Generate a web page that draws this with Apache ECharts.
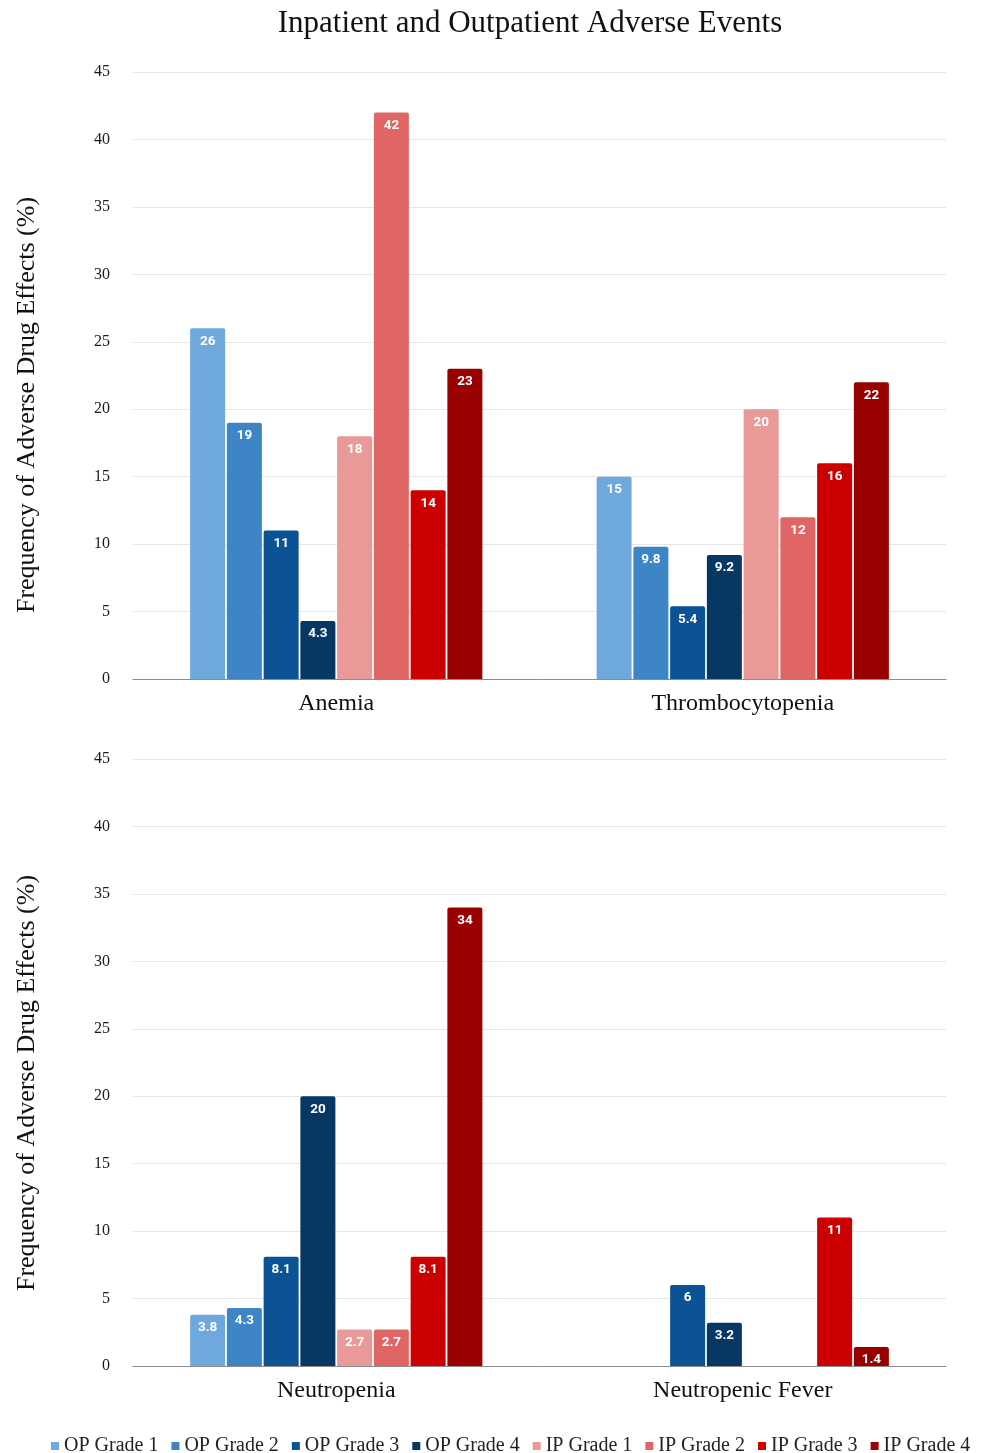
<!DOCTYPE html>
<html>
<head>
<meta charset="utf-8">
<script src="https://cdn.jsdelivr.net/npm/echarts@6/dist/echarts.min.js"></script>
<style>html,body{margin:0;padding:0;background:#fff}#c{width:988px;height:1453px}</style>
</head>
<body>
<div id="c"></div>
<script>
const seriesNames = ['OP Grade 1','OP Grade 2','OP Grade 3','OP Grade 4','IP Grade 1','IP Grade 2','IP Grade 3','IP Grade 4'];
const colors = ['#6fa8dc','#3d85c6','#0b5394','#073763','#ea9999','#e06666','#cc0000','#990000'];
const topCategories = ['Anemia','Thrombocytopenia'];
const bottomCategories = ['Neutropenia','Neutropenic Fever'];
// values per series: [category1, category2]
const topValues = [
  [26, 15],
  [19, 9.8],
  [11, 5.4],
  [4.3, 9.2],
  [18, 20],
  [42, 12],
  [14, 16],
  [23, 22]
];
const bottomValues = [
  [3.8, null],
  [4.3, null],
  [8.1, 6],
  [20, 3.2],
  [2.7, null],
  [2.7, null],
  [8.1, 11],
  [34, 1.4]
];
const yTicks = {min: 0, max: 45, interval: 5};
const yAxisTitle = 'Frequency of Adverse Drug Effects (%)';

const serif = 'Liberation Serif';
const chart = echarts.init(document.getElementById('c'));
const series = [];
function addSeries(values, idx) {
  values.forEach((v, i) => {
    series.push({
      name: seriesNames[i],
      type: 'bar',
      xAxisIndex: idx,
      yAxisIndex: idx,
      data: v.map(x => x === null ? '-' : x),
      barWidth: 35,
      barGap: '5%',
      itemStyle: {color: colors[i], borderRadius: [2,2,0,0]},
      label: {
        show: true,
        position: 'insideTop',
        distance: 6,
        color: '#fff',
        fontFamily: 'Roboto',
        fontWeight: 'bold',
        fontSize: 13.5
      }
    });
  });
}
addSeries(topValues, 0);
addSeries(bottomValues, 1);

const xAxisCommon = {
  type: 'category',
  axisTick: {show: false},
  axisLine: {lineStyle: {color: '#8c8c8c', width: 1}},
  axisLabel: {fontFamily: serif, fontSize: 24, color: '#111', margin: 13}
};
const yAxisCommon = {
  type: 'value',
  min: yTicks.min, max: yTicks.max, interval: yTicks.interval,
  axisLine: {show: false},
  axisTick: {show: false},
  splitLine: {lineStyle: {color: '#e6e6e6'}},
  axisLabel: {fontFamily: serif, fontSize: 16, color: '#1a1a1a', margin: 23}
};

function yTitle(cy) {
  return {
    type: 'text',
    x: 27, y: cy,
    rotation: Math.PI / 2,
    style: {
      text: yAxisTitle,
      font: '26px "Liberation Serif"',
      fill: '#111',
      textAlign: 'center',
      textVerticalAlign: 'middle'
    }
  };
}

chart.setOption({
  animation: false,
  title: {
    text: 'Inpatient and Outpatient Adverse Events',
    left: 525, top: 3, textAlign: 'center',
    textStyle: {fontFamily: serif, fontSize: 31, fontWeight: 'normal', color: '#111'}
  },
  graphic: [yTitle(405), yTitle(1083)],
  legend: {
    data: seriesNames,
    top: 1431,
    left: 46,
    icon: 'rect',
    itemWidth: 8, itemHeight: 8,
    itemGap: 13,
    textStyle: {fontFamily: serif, fontSize: 20, color: '#222'}
  },
  grid: [
    {left: 133, right: 42, top: 72, height: 607},
    {left: 133, right: 42, top: 759, height: 607}
  ],
  xAxis: [
    Object.assign({}, xAxisCommon, {gridIndex: 0, data: topCategories}),
    Object.assign({}, xAxisCommon, {gridIndex: 1, data: bottomCategories})
  ],
  yAxis: [
    Object.assign({}, yAxisCommon, {gridIndex: 0}),
    Object.assign({}, yAxisCommon, {gridIndex: 1})
  ],
  series: series
});
</script>
</body>
</html>
